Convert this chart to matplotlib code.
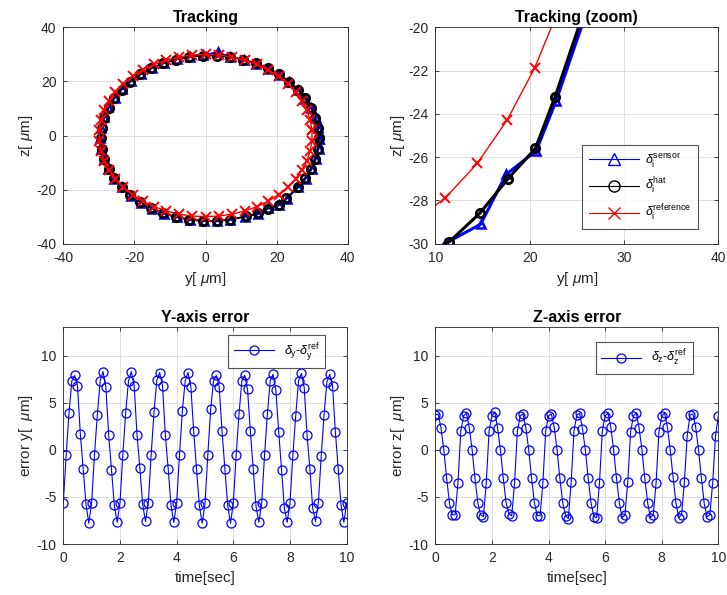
import numpy as np
import matplotlib
matplotlib.use('Agg')
import matplotlib.pyplot as plt
from matplotlib.lines import Line2D

plt.rcParams['font.family'] = ['Liberation Sans', 'DejaVu Sans']
plt.rcParams['mathtext.fontset'] = 'custom'
plt.rcParams['mathtext.rm'] = 'Liberation Sans'
plt.rcParams['mathtext.it'] = 'Liberation Sans:italic'
plt.rcParams['axes.unicode_minus'] = False

# reference trajectory (one loop)
ref_y = [29.94, 29.47, 28.53, 27.14, 25.33, 23.12, 20.54, 17.63, 14.45, 11.04,
         7.46, 3.76, 0.00, -3.76, -7.46, -11.04, -14.45, -17.63, -20.54, -23.12,
         -25.33, -27.14, -28.53, -29.47, -29.94, -29.94, -29.47, -28.53, -27.14, -25.33,
         -23.12, -20.54, -17.63, -14.45, -11.04, -7.46, -3.76, 0.00, 3.76, 7.46,
         11.04, 14.45, 17.63, 20.54, 23.12, 25.33, 27.14, 28.53, 29.47, 29.94]
ref_z = [1.88, 5.62, 9.27, 12.77, 16.07, 19.12, 21.87, 24.27, 26.29, 27.89,
         29.06, 29.76, 30.00, 29.76, 29.06, 27.89, 26.29, 24.27, 21.87, 19.12,
         16.07, 12.77, 9.27, 5.62, 1.88, -1.88, -5.62, -9.27, -12.77, -16.07,
         -19.12, -21.87, -24.27, -26.29, -27.89, -29.06, -29.76, -30.00, -29.76, -29.06,
         -27.89, -26.29, -24.27, -21.87, -19.12, -16.07, -12.77, -9.27, -5.62, -1.88]

# estimated position
hat_y = [31.80, 31.56, 30.84, 29.65, 28.01, 25.96, 23.51, 20.71, 17.60, 14.23,
         10.66, 6.93, 3.12, -0.72, -4.53, -8.26, -11.83, -15.20, -18.31, -21.11,
         -23.56, -25.61, -27.25, -28.44, -29.16, -29.40, -29.16, -28.44, -27.25, -25.61,
         -23.56, -21.11, -18.31, -15.20, -11.83, -8.26, -4.53, -0.72, 3.12, 6.93,
         11.50, 14.70, 17.70, 20.60, 22.70, 25.96, 28.01, 29.65, 30.84, 31.56]
hat_z = [-1.00, 2.84, 6.61, 10.26, 13.74, 16.99, 19.95, 22.58, 24.84, 26.69,
         28.10, 29.06, 29.54, 29.54, 29.06, 28.10, 26.69, 24.84, 22.58, 19.95,
         16.99, 13.74, 10.26, 6.61, 2.84, -1.00, -4.84, -8.61, -12.26, -15.74,
         -18.99, -21.95, -24.58, -26.84, -28.69, -30.10, -31.06, -31.54, -31.54, -31.06,
         -29.90, -28.60, -27.00, -25.60, -23.20, -18.99, -15.74, -12.26, -8.61, -4.84]

# sensor measurement
sen_y = [31.9, 31.7, 31.0, 29.8, 28.1, 26.1, 23.6, 20.8, 17.7, 14.3,
         10.7, 7.0, 3.4, -0.6, -4.4, -8.1, -11.7, -15.1, -18.2, -21.0,
         -23.5, -25.6, -27.3, -28.6, -29.4, -29.7, -29.4, -28.6, -27.4, -25.7,
         -23.6, -21.1, -18.2, -15.0, -11.6, -8.0, -4.3, -0.5, 3.3, 7.0,
         11.0, 14.8, 17.5, 20.7, 22.8, 26.1, 28.2, 29.9, 31.1, 31.8]
sen_z = [-1.3, 2.6, 6.4, 10.1, 13.6, 16.8, 19.8, 22.4, 24.7, 26.6,
         28.0, 29.0, 30.9, 29.7, 29.2, 28.2, 26.8, 25.0, 22.8, 20.2,
         17.2, 13.9, 10.4, 6.7, 2.9, -1.0, -4.9, -8.7, -12.4, -15.9,
         -19.2, -22.2, -24.8, -27.0, -28.9, -30.3, -31.2, -31.6, -31.6, -31.1,
         -30.0, -29.1, -26.8, -25.7, -23.4, -19.2, -15.9, -12.4, -8.7, -4.9]

time = np.arange(101) * 0.1
err_y = [-5.6, -0.6, 3.9, 7.3, 7.9, 6.8, 1.7, -2.0, -5.8, -7.8,
         -5.6, -0.5, 3.7, 7.3, 8.3, 6.7, 1.6, -2.1, -5.9, -7.7,
         -5.6, -0.5, 3.9, 7.3, 8.3, 6.8, 1.6, -1.9, -5.8, -7.6,
         -5.6, -0.5, 4.0, 7.4, 8.2, 6.8, 1.6, -2.0, -5.9, -7.7,
         -5.6, -0.5, 4.1, 7.3, 8.2, 6.7, 2.0, -2.0, -5.9, -7.8,
         -5.7, -0.5, 4.3, 7.3, 7.9, 6.7, 2.0, -2.0, -5.9, -7.8,
         -5.6, -0.5, 3.8, 7.3, 7.9, 6.4, 2.0, -2.0, -6.0, -7.7,
         -5.7, -0.6, 3.8, 7.3, 8.0, 6.3, 1.9, -2.1, -6.2, -7.7,
         -5.6, -0.6, 3.6, 7.3, 8.1, 6.6, 1.6, -2.0, -6.2, -7.6,
         -5.6, -0.7, 3.7, 7.2, 8.0, 6.8, 1.9, -2.0, -5.9, -7.7,
         -5.6]
err_z = [3.7, 3.8, 2.3, 0.0, -3.0, -5.7, -6.9, -6.9, -3.5, 2.0,
         3.6, 3.9, 2.3, 0.0, -3.0, -5.6, -6.9, -7.1, -3.5, 2.0,
         3.6, 4.0, 2.3, 0.0, -3.0, -5.6, -6.8, -7.0, -3.5, 2.0,
         3.6, 3.8, 2.3, 0.0, -3.0, -5.6, -7.0, -7.0, -3.5, 2.0,
         3.6, 3.8, 2.4, 0.0, -3.0, -5.6, -7.0, -7.3, -3.4, 2.0,
         3.7, 3.9, 2.2, 0.0, -3.0, -5.6, -7.1, -7.2, -3.5, 2.0,
         3.6, 3.9, 2.4, 0.0, -3.0, -5.6, -7.2, -6.9, -3.4, 1.9,
         3.6, 3.9, 2.3, 0.0, -3.0, -5.6, -7.2, -6.9, -3.5, 1.9,
         3.6, 3.9, 2.4, 0.0, -2.9, -5.6, -7.2, -6.9, -3.4, 1.5,
         3.7, 3.8, 2.4, 0.0, -3.0, -5.7, -7.1, -6.9, -3.5, 1.5,
         3.6]

TXT = (0.15, 0.15, 0.15)
TICK_FS = 10
LABEL_FS = 11
TITLE_FS = 11.5


def closed(a):
    return np.append(a, a[0])


def style(ax, xlim, ylim, xticks, yticks):
    ax.set_xlim(xlim)
    ax.set_ylim(ylim)
    ax.set_xticks(xticks)
    ax.set_yticks(yticks)
    ax.grid(True, color=(0.85, 0.85, 0.85), linewidth=0.6)
    ax.set_axisbelow(True)
    ax.tick_params(direction='in', length=3, width=0.6, top=True, right=True,
                   labelsize=TICK_FS, colors=TXT, labelcolor=TXT, pad=5)
    for s in ax.spines.values():
        s.set_color(TXT)
        s.set_linewidth(0.6)


fig = plt.figure(figsize=(7.27, 5.95), dpi=100)

ax1 = fig.add_axes([0.0871, 0.5904, 0.3912, 0.3637])
ax2 = fig.add_axes([0.5988, 0.5904, 0.3893, 0.3637])
ax3 = fig.add_axes([0.0871, 0.0857, 0.3898, 0.3642])
ax4 = fig.add_axes([0.5988, 0.0857, 0.3893, 0.3642])

for ax, lw in ((ax1, 1.2), (ax2, 2.2)):
    ax.plot(closed(sen_y), closed(sen_z), '-^', color='b', lw=lw, ms=6, mew=1.8,
            mfc='none')
    ax.plot(closed(hat_y), closed(hat_z), '-o', color='k', lw=lw, ms=6, mew=2.0,
            mfc='none')
    ax.plot(closed(ref_y), closed(ref_z), '-x', color='r', lw=1.0, ms=7, mew=1.4)

MU = r'$\mathit{\mu}$'
style(ax1, (-40, 40), (-40, 40), [-40, -20, 0, 20, 40], [-40, -20, 0, 20, 40])
ax1.set_title('Tracking', fontsize=TITLE_FS, fontweight='bold', pad=4)
ax1.set_xlabel('y[ ' + MU + 'm]', fontsize=LABEL_FS, color=TXT, labelpad=4)
ax1.set_ylabel('z[ ' + MU + 'm]', fontsize=LABEL_FS, color=TXT, labelpad=1)

style(ax2, (10, 40), (-30, -20), [10, 20, 30, 40], [-30, -28, -26, -24, -22, -20])
ax2.set_title('Tracking (zoom)', fontsize=TITLE_FS, fontweight='bold', pad=4)
ax2.set_xlabel('y[ ' + MU + 'm]', fontsize=LABEL_FS, color=TXT, labelpad=4)
ax2.set_ylabel('z[ ' + MU + 'm]', fontsize=LABEL_FS, color=TXT, labelpad=1)
handles = [Line2D([], [], color='b', marker='^', mfc='none', ms=8, lw=0.8),
           Line2D([], [], color='k', marker='o', mfc='none', ms=8, lw=0.8),
           Line2D([], [], color='r', marker='x', ms=8, lw=0.8)]
labels = [r'$\mathit{\delta}_{\rm i}^{\rm sensor}$', r'$\mathit{\delta}_{\rm i}^{\rm hat}$',
          r'$\mathit{\delta}_{\rm i}^{\rm reference}$']
leg = ax2.legend(handles, labels, loc='upper left', bbox_to_anchor=(0.52, 0.456),
                 fontsize=9, frameon=True, fancybox=False, edgecolor=TXT,
                 handlelength=4.0, handletextpad=0.5, borderpad=0.5, labelspacing=0.55,
                 borderaxespad=0)
leg.get_frame().set_linewidth(0.8)

for ax, t, e, name, lab, leglab, anchor in (
        (ax3, time, err_y, 'Y-axis error', 'error y[  ' + MU + 'm]',
         r'$\mathit{\delta}_{\rm y}$-$\mathit{\delta}_{\rm y}^{\rm ref}$', (0.925, 0.965)),
        (ax4, time, err_z, 'Z-axis error', 'error z[  ' + MU + 'm]',
         r'$\mathit{\delta}_{\rm z}$-$\mathit{\delta}_{\rm z}^{\rm ref}$', (0.91, 0.93))):
    ax.plot(t, e, '-o', color='b', lw=0.8, ms=6.5, mfc='none', mew=0.9)
    style(ax, (0, 10), (-10, 13), [0, 2, 4, 6, 8, 10], [-10, -5, 0, 5, 10])
    ax.set_title(name, fontsize=TITLE_FS, fontweight='bold', pad=4)
    ax.set_xlabel('time[sec]', fontsize=LABEL_FS, color=TXT, labelpad=4)
    ax.set_ylabel(lab, fontsize=LABEL_FS, color=TXT, labelpad=1)
    lg = ax.legend([leglab], loc='upper right', bbox_to_anchor=anchor, fontsize=9,
                   frameon=True, fancybox=False, edgecolor=TXT, handlelength=3.2,
                   borderpad=0.45, borderaxespad=0)
    lg.get_frame().set_linewidth(0.8)

fig.savefig('out.png', dpi=100)
